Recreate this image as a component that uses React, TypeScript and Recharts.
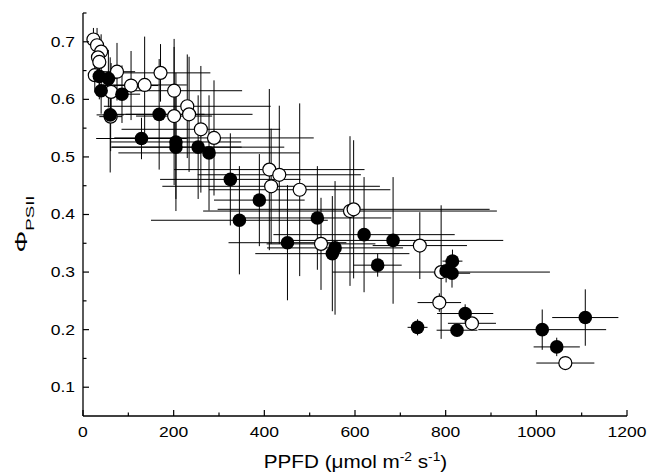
import React from 'react';
import { ScatterChart, Scatter, XAxis, YAxis, ErrorBar } from 'recharts';

// open circles
const openX = [23, 31, 40, 33, 36, 26, 75, 62, 61, 106, 136, 171, 201, 201, 230, 234, 260, 289, 411, 433, 415, 478, 589, 597, 525, 743, 790, 786, 858, 1064];
const openY = [0.704, 0.694, 0.683, 0.673, 0.665, 0.642, 0.648, 0.613, 0.57, 0.624, 0.625, 0.646, 0.615, 0.571, 0.588, 0.574, 0.548, 0.533, 0.478, 0.469, 0.449, 0.443, 0.406, 0.409, 0.349, 0.346, 0.3, 0.247, 0.211, 0.142];
const openXErr = [10, 10, 12, 10, 12, 10, 40, 30, 25, 60, 93, 110, 150, 84, 184, 140, 175, 220, 210, 180, 240, 200, 324, 300, 120, 104, 240, 48, 53, 64];
const openYErr = [0.02, 0.03, 0.03, 0.04, 0.04, 0.03, 0.05, 0.05, 0.06, 0.06, 0.084, 0.05, 0.09, 0.12, 0.09, 0.1, 0.11, 0.1, 0.14, 0.12, 0.1, 0.15, 0.13, 0.12, 0.08, 0.058, 0.116, 0.016, 0.01, 0.005];

// filled circles
const filledX = [36, 56, 40, 86, 60, 168, 129, 205, 205, 254, 278, 325, 345, 389, 517, 451, 556, 550, 620, 684, 650, 815, 801, 814, 738, 843, 825, 1013, 1108, 1045];
const filledY = [0.64, 0.636, 0.615, 0.609, 0.573, 0.574, 0.532, 0.526, 0.517, 0.517, 0.507, 0.461, 0.39, 0.425, 0.394, 0.351, 0.342, 0.332, 0.365, 0.355, 0.312, 0.319, 0.302, 0.298, 0.204, 0.228, 0.199, 0.2, 0.221, 0.17];
const filledXErr = [15, 20, 12, 40, 30, 100, 100, 144, 145, 190, 200, 155, 195, 100, 163, 130, 150, 170, 200, 243, 53, 22, 22, 40, 22, 62, 45, 141, 73, 51];
const filledYErr = [0.04, 0.05, 0.04, 0.05, 0.1, 0.096, 0.036, 0.12, 0.09, 0.09, 0.1, 0.08, 0.094, 0.08, 0.09, 0.1, 0.116, 0.1, 0.1, 0.11, 0.02, 0.02, 0.02, 0.025, 0.014, 0.016, 0.01, 0.035, 0.049, 0.016];

const xTicks = [0, 100, 200, 300, 400, 500, 600, 700, 800, 900, 1000, 1100, 1200];
const yTicks = [0.1, 0.15, 0.2, 0.25, 0.3, 0.35, 0.4, 0.45, 0.5, 0.55, 0.6, 0.65, 0.7, 0.75];

const openData = openX.map((x, i) => ({ x, y: openY[i], xErr: openXErr[i], yErr: openYErr[i] }));
const filledData = filledX.map((x, i) => ({ x, y: filledY[i], xErr: filledXErr[i], yErr: filledYErr[i] }));

const font = 'Arial, "Liberation Sans", sans-serif';

const XTick = (props: any) => {
  const { x, y, payload } = props;
  const v = payload.value;
  const major = v % 200 === 0;
  return (
    <g>
      <line x1={x} x2={x} y1={y} y2={y - (major ? 6 : 3.5)} stroke="#000" strokeWidth={1.2} />
      {major && (
        <text
          x={x}
          y={y + 21}
          textAnchor="middle"
          fontSize={14}
          fontFamily={font}
          fill="#000"
          transform={`translate(${x} 0) scale(1.25 1) translate(${-x} 0)`}
        >
          {v}
        </text>
      )}
    </g>
  );
};

const YTick = (props: any) => {
  const { x, y, payload } = props;
  const v = payload.value;
  const major = Math.round(v * 100) % 10 === 0;
  return (
    <g>
      <line x1={x} x2={x + (major ? 6 : 3.5)} y1={y} y2={y} stroke="#000" strokeWidth={1.2} />
      {major && (
        <text
          x={x - 8}
          y={y + 5}
          textAnchor="end"
          fontSize={14}
          fontFamily={font}
          fill="#000"
          transform={`translate(${x - 8} 0) scale(1.25 1) translate(${-(x - 8)} 0)`}
        >
          {v.toFixed(1)}
        </text>
      )}
    </g>
  );
};

const OpenDot = (p: any) => <circle cx={p.cx} cy={p.cy} r={6.5} fill="#fff" stroke="#000" strokeWidth={1.2} />;
const FilledDot = (p: any) => <circle cx={p.cx} cy={p.cy} r={6.8} fill="#000" />;
const NoDot = () => <g />;

export default function App() {
  return (
    <div style={{ position: 'absolute', left: 0, top: 0, width: 648, height: 475 }}>
      <ScatterChart width={648} height={475} margin={{ top: 13, right: 21, bottom: 58, left: 82 }}>
        <XAxis
          type="number"
          dataKey="x"
          domain={[0, 1200]}
          ticks={xTicks}
          interval={0}
          allowDataOverflow
          height={1}
          tickSize={0}
          tickMargin={0}
          tickLine={false}
          tick={XTick}
          axisLine={{ stroke: '#000', strokeWidth: 1.3 }}
        />
        <YAxis
          type="number"
          dataKey="y"
          domain={[0.05, 0.75]}
          ticks={yTicks}
          interval={0}
          allowDataOverflow
          width={1}
          tickSize={0}
          tickMargin={0}
          tickLine={false}
          tick={YTick}
          axisLine={{ stroke: '#000', strokeWidth: 1.3 }}
        />
        <Scatter data={openData} shape={NoDot} isAnimationActive={false}>
          <ErrorBar dataKey="xErr" direction="x" width={0} stroke="#000" strokeWidth={1} isAnimationActive={false} />
          <ErrorBar dataKey="yErr" direction="y" width={0} stroke="#000" strokeWidth={1} isAnimationActive={false} />
        </Scatter>
        <Scatter data={filledData} shape={NoDot} isAnimationActive={false}>
          <ErrorBar dataKey="xErr" direction="x" width={0} stroke="#000" strokeWidth={1} isAnimationActive={false} />
          <ErrorBar dataKey="yErr" direction="y" width={0} stroke="#000" strokeWidth={1} isAnimationActive={false} />
        </Scatter>
        <Scatter data={openData} shape={OpenDot} isAnimationActive={false} />
        <Scatter data={filledData} shape={FilledDot} isAnimationActive={false} />
      </ScatterChart>
      <svg width={648} height={475} style={{ position: 'absolute', left: 0, top: 0, pointerEvents: 'none' }}>
        <text
          x={355.5}
          y={468}
          textAnchor="middle"
          fontSize={18}
          fontFamily={font}
          fill="#000"
          transform="translate(355.5 0) scale(1.15 1) translate(-355.5 0)"
        >
          PPFD (μmol m<tspan fontSize={12} dy={-7}>-2</tspan>
          <tspan dy={7}> s</tspan>
          <tspan fontSize={12} dy={-7}>-1</tspan>
          <tspan dy={7}>)</tspan>
        </text>
        <text transform="translate(27 224) rotate(-90) scale(1.7 1)" textAnchor="middle" fontFamily={font} fill="#000">
          <tspan fontSize={16}>Φ</tspan>
          <tspan fontSize={11} dy={7}>PSII</tspan>
        </text>
      </svg>
    </div>
  );
}
